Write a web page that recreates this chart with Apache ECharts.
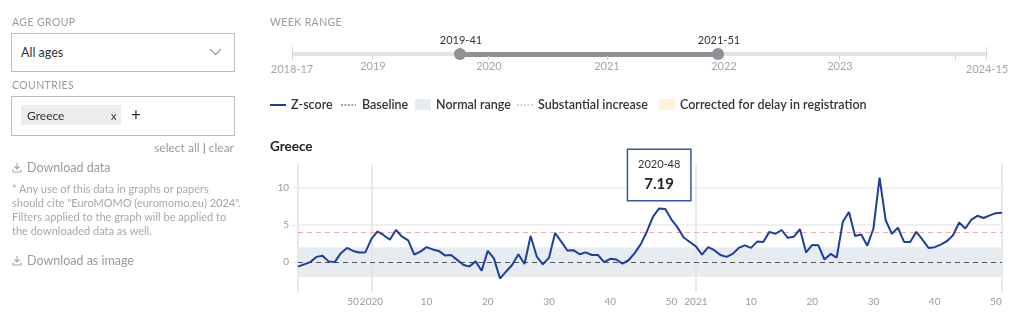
<!DOCTYPE html>
<html>
<head>
<meta charset="utf-8">
<script src="https://cdn.jsdelivr.net/npm/echarts@6/dist/echarts.min.js"></script>
<style>
  html, body { margin:0; padding:0; background:#fff; width:1024px; height:333px; overflow:hidden; }
  body { font-family: Lato, "Noto Sans", sans-serif; }
  #chart { position:absolute; left:0; top:0; width:1024px; height:333px; }
  .a { position:absolute; white-space:nowrap; }
  .cap { font-size:10.5px; color:#9a9a9a; letter-spacing:0.4px; line-height:14px; }
  .box { border:1px solid #bdbdbd; box-sizing:border-box; background:#fff; }
  .muted { color:#9b9b9b; }
  .note { font-size:11px; color:#a8a8a8; line-height:14px; }
  .yl { font-size:11px; color:#a5a5a5; line-height:14px; transform:translateX(-50%); }
</style>
</head>
<body>
<div id="chart"></div>

<!-- left panel -->
<div class="a cap" style="left:12px;top:15px;">AGE GROUP</div>
<div class="a box" style="left:11px;top:33px;width:224px;height:39px;"></div>
<div class="a" style="left:21px;top:45px;font-size:12.5px;color:#333;line-height:15px;">All ages</div>
<svg class="a" style="left:209px;top:48px;" width="13" height="8" viewBox="0 0 13 8"><polyline points="1,1 6.5,6.5 12,1" fill="none" stroke="#a0a0a0" stroke-width="1.3"/></svg>

<div class="a cap" style="left:12px;top:78px;">COUNTRIES</div>
<div class="a box" style="left:11px;top:96px;width:224px;height:40px;"></div>
<div class="a" style="left:21px;top:105px;width:100px;height:20px;background:#ececec;"></div>
<div class="a" style="left:27px;top:108px;font-size:12px;color:#333;line-height:15px;">Greece</div>
<div class="a" style="left:111px;top:108px;font-size:11px;color:#333;line-height:15px;">x</div>
<div class="a" style="left:131px;top:106px;font-size:17px;color:#333;line-height:18px;">+</div>
<div class="a muted" style="right:790px;top:141px;font-size:12px;line-height:14px;">select all <span style="color:#777">|</span> clear</div>

<svg class="a" style="left:12px;top:162px;" width="10" height="11" viewBox="0 0 10 11"><path d="M5 1 V7 M2.5 4.5 L5 7 L7.5 4.5 M1 7.5 V10 H9 V7.5" fill="none" stroke="#a5a5a5" stroke-width="1.1"/></svg>
<div class="a muted" style="left:27px;top:160px;font-size:12.5px;line-height:16px;">Download data</div>
<div class="a note" style="left:12px;top:182px;">* Any use of this data in graphs or papers</div>
<div class="a note" style="left:12px;top:196px;">should cite "EuroMOMO (euromomo.eu) 2024".</div>
<div class="a note" style="left:12px;top:210px;">Filters applied to the graph will be applied to</div>
<div class="a note" style="left:12px;top:224px;">the downloaded data as well.</div>
<svg class="a" style="left:12px;top:255px;" width="10" height="11" viewBox="0 0 10 11"><path d="M5 1 V7 M2.5 4.5 L5 7 L7.5 4.5 M1 7.5 V10 H9 V7.5" fill="none" stroke="#a5a5a5" stroke-width="1.1"/></svg>
<div class="a muted" style="left:27px;top:253px;font-size:12.5px;line-height:16px;">Download as image</div>

<!-- week range slider -->
<div class="a cap" style="left:270px;top:15px;">WEEK RANGE</div>
<div class="a" style="left:292px;top:52px;width:695px;height:4px;background:#e3e3e3;"></div>
<div class="a" style="left:460px;top:51.5px;width:258px;height:5px;background:#8f9197;"></div>
<div class="a" style="left:292px;top:47px;width:1px;height:13px;background:#d6d6d6;"></div>
<div class="a" style="left:986px;top:47px;width:1px;height:13px;background:#d6d6d6;"></div>
<div class="a" style="left:372px;top:56px;width:1px;height:4px;background:#d6d6d6;"></div>
<div class="a" style="left:488px;top:56px;width:1px;height:4px;background:#d6d6d6;"></div>
<div class="a" style="left:607px;top:56px;width:1px;height:4px;background:#d6d6d6;"></div>
<div class="a" style="left:723px;top:56px;width:1px;height:4px;background:#d6d6d6;"></div>
<div class="a" style="left:839px;top:56px;width:1px;height:4px;background:#d6d6d6;"></div>
<div class="a" style="left:955px;top:54px;width:1px;height:6px;background:#d6d6d6;"></div>
<div class="a" style="left:454px;top:48px;width:12px;height:12px;border-radius:50%;background:#8f9197;"></div>
<div class="a" style="left:712px;top:48px;width:12px;height:12px;border-radius:50%;background:#8f9197;"></div>
<div class="a" style="left:461px;top:33px;font-size:11px;color:#333;line-height:14px;transform:translateX(-50%);">2019-41</div>
<div class="a" style="left:719px;top:33px;font-size:11px;color:#333;line-height:14px;transform:translateX(-50%);">2021-51</div>
<div class="a yl" style="left:292px;top:62px;">2018-17</div>
<div class="a yl" style="left:373px;top:59px;">2019</div>
<div class="a yl" style="left:489px;top:59px;">2020</div>
<div class="a yl" style="left:607px;top:59px;">2021</div>
<div class="a yl" style="left:724px;top:59px;">2022</div>
<div class="a yl" style="left:840px;top:59px;">2023</div>
<div class="a yl" style="left:987px;top:62px;">2024-15</div>

<script>
// ---- data ----
const z2019 = [-0.6, -0.3, 0.0, 0.7, 0.85, 0.1, 0.0, 1.2, 1.9, 1.5, 1.3, 1.3]; // weeks 41-52
const z2020 = [3.1, 4.1, 3.6, 3.0, 4.3, 3.4, 2.9, 1.0, 1.4, 2.0,
               1.7, 1.5, 0.9, 0.95, 0.3, -0.35, -0.6, 0.1, -1.15, 1.5,
               0.5, -2.2, -1.25, -0.35, 1.05, -0.25, 3.5, 0.75, -0.3, 0.6,
               3.9, 2.75, 1.55, 1.6, 1.05, 1.3, 0.95, 0.95, 0.0, 0.45,
               0.35, -0.2, 0.25, 1.2, 2.4, 4.1, 6.1, 7.19, 7.1, 5.7,
               4.65, 3.3, 2.7]; // weeks 1-53
const z2021 = [2.1, 1.0, 2.0, 1.6, 0.95, 0.7, 1.1, 1.9, 2.25, 1.9,
               2.75, 2.7, 4.05, 3.8, 4.3, 3.25, 3.4, 4.4, 1.3, 2.3,
               2.25, 0.35, 1.1, 0.6, 5.4, 6.7, 3.5, 3.7, 2.2, 4.5,
               11.3, 5.6, 3.8, 4.6, 2.7, 2.7, 4.05, 3.0, 1.9, 2.0,
               2.35, 2.8, 3.6, 5.3, 4.5, 5.7, 6.2, 5.9, 6.25, 6.55,
               6.6]; // weeks 1-51
const yearStarts = [2019, 2020, 2021];
const firstWeek = [41, 1, 1];
const baselineValue = 0;
const normalRange = [-2, 2];
const substantialIncrease = 4;
const yTickValues = [0, 5, 10];
const yearGridWeeks = ['2020-01', '2021-01'];
const highlightWeek = '2020-48';
const countryName = 'Greece';
const legendNames = ['Z-score', 'Baseline', 'Normal range', 'Substantial increase', 'Corrected for delay in registration'];

// ---- build ----
const pad = n => (n < 10 ? '0' : '') + n;
const yearValues = [z2019, z2020, z2021];
const categories = [];
const zscore = [];
yearValues.forEach((arr, i) => {
  arr.forEach((v, j) => {
    categories.push(yearStarts[i] + '-' + pad(firstWeek[i] + j));
    zscore.push(v);
  });
});
const hiIdx = categories.indexOf(highlightWeek);
const hiVal = zscore[hiIdx];

const FONT = 'Lato, "Noto Sans", sans-serif';
const BLUE = '#1b3f9e';

const chart = echarts.init(document.getElementById('chart'), null, { renderer: 'canvas' });

const ly = 105;
const legendGraphic = [
  { type: 'line', shape: { x1: 270, y1: ly, x2: 286, y2: ly }, style: { stroke: BLUE, lineWidth: 2 } },
  { type: 'text', x: 291, y: ly, style: { text: legendNames[0], font: '600 12.5px ' + FONT, fill: '#333', verticalAlign: 'middle' } },
  { type: 'line', shape: { x1: 341, y1: ly, x2: 356, y2: ly }, style: { stroke: '#444', lineWidth: 1, lineDash: [2, 1.5] } },
  { type: 'text', x: 362, y: ly, style: { text: legendNames[1], font: '600 12.5px ' + FONT, fill: '#333', verticalAlign: 'middle' } },
  { type: 'rect', shape: { x: 415, y: 99, width: 16, height: 11 }, style: { fill: '#e7ecf1' } },
  { type: 'text', x: 436, y: ly, style: { text: legendNames[2], font: '600 12.5px ' + FONT, fill: '#333', verticalAlign: 'middle' } },
  { type: 'line', shape: { x1: 517, y1: ly, x2: 533, y2: ly }, style: { stroke: '#f08a84', lineWidth: 1, lineDash: [2, 1.5] } },
  { type: 'text', x: 538, y: ly, style: { text: legendNames[3], font: '600 12.5px ' + FONT, fill: '#333', verticalAlign: 'middle' } },
  { type: 'rect', shape: { x: 659, y: 99, width: 16, height: 11 }, style: { fill: '#fff5d6' } },
  { type: 'text', x: 680, y: ly, style: { text: legendNames[4], font: '600 12.5px ' + FONT, fill: '#333', verticalAlign: 'middle' } }
];

chart.setOption({
  animation: false,
  textStyle: { fontFamily: FONT },
  title: {
    text: countryName, left: 270, top: 140, padding: 0,
    textStyle: { fontSize: 13.5, fontWeight: 'bold', color: '#222', fontFamily: FONT }
  },
  graphic: legendGraphic,
  grid: { left: 298, right: 22, top: 165, bottom: 41, containLabel: false },
  xAxis: {
    type: 'category', data: categories, boundaryGap: false,
    axisLine: { show: true, lineStyle: { color: '#e8e8e8', width: 2 } },
    axisTick: { show: false },
    splitLine: { show: false },
    axisLabel: {
      interval: 0, color: '#9a9a9a', fontSize: 10, margin: 5, fontFamily: FONT,
      formatter: v => {
        const parts = v.split('-');
        const n = +parts[1];
        if (n === 1) return parts[0];
        if (n % 10 === 0) return String(n);
        return '';
      }
    }
  },
  yAxis: [{
    type: 'value', min: -4, max: 13, interval: 1,
    axisLine: { show: true, lineStyle: { color: '#e8e8e8', width: 2 } },
    axisTick: { show: true, customValues: yTickValues, length: 5, lineStyle: { color: '#e3e3e3' } },
    axisLabel: { customValues: yTickValues, color: '#9a9a9a', fontSize: 10, margin: 9, fontFamily: FONT },
    splitLine: { show: true, lineStyle: { color: '#ebebeb', width: 1.5 } }
  }, {
    type: 'value', position: 'right', min: -4, max: 13, interval: 1,
    axisLine: { show: true, lineStyle: { color: '#e8e8e8', width: 2 } },
    axisTick: { show: false }, axisLabel: { show: false }, splitLine: { show: false }
  }],
  series: [
    {
      name: 'normal', type: 'line', data: zscore, z: 1, silent: true,
      showSymbol: false, lineStyle: { width: 0, opacity: 0 },
      markArea: { silent: true, itemStyle: { color: '#e7ecf1' }, data: [[{ yAxis: normalRange[0] }, { yAxis: normalRange[1] }]] }
    },
    {
      name: 'lines', type: 'line', data: zscore, z: 2, silent: true,
      showSymbol: false, lineStyle: { width: 0, opacity: 0 },
      markLine: {
        silent: true, symbol: ['none', 'none'], label: { show: false },
        data: [
          { xAxis: yearGridWeeks[0], lineStyle: { color: '#e2e2e2', width: 1.5, type: 'solid' } },
          { xAxis: yearGridWeeks[1], lineStyle: { color: '#e2e2e2', width: 1.5, type: 'solid' } },
          { yAxis: baselineValue, lineStyle: { color: '#555', width: 1.2, type: [5, 4] } },
          { yAxis: substantialIncrease, lineStyle: { color: '#f6aaa5', width: 1.2, type: [5, 4] } }
        ]
      }
    },
    {
      name: legendNames[0], type: 'line', data: zscore, z: 5,
      showSymbol: false, symbol: 'none',
      lineStyle: { color: BLUE, width: 2 }, itemStyle: { color: BLUE },
      markPoint: {
        symbol: 'circle', symbolSize: 1, itemStyle: { color: 'rgba(0,0,0,0)' },
        data: [{ coord: [highlightWeek, hiVal] }],
        label: {
          show: true, position: 'top', distance: 8,
          formatter: () => '{a|' + highlightWeek + '}\n{b|' + hiVal.toFixed(2) + '}',
          backgroundColor: '#fff', borderColor: '#3a55a8', borderWidth: 1.5,
          padding: [6, 0, 5, 0],
          rich: {
            a: { fontSize: 11, color: '#333', lineHeight: 17, width: 62, align: 'center', fontFamily: FONT },
            b: { fontSize: 15, fontWeight: 'bold', color: '#222', lineHeight: 22, width: 62, align: 'center', fontFamily: FONT }
          }
        }
      }
    }
  ]
});
</script>
</body>
</html>
